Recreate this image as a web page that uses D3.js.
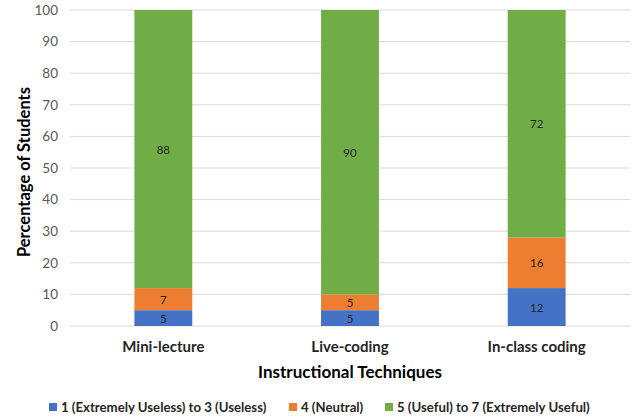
<!DOCTYPE html>
<html>
<head>
<meta charset="utf-8">
<script src="https://cdn.jsdelivr.net/npm/d3@7"></script>
<style>
  body { margin: 0; background: #fff; }
  text { font-family: Lato, "Open Sans", sans-serif; }
</style>
</head>
<body>
<svg id="chart" width="632" height="420"></svg>
<script>
// chart data
var categories = ['Mini-lecture', 'Live-coding', 'In-class coding'];
var seriesNames = ['1 (Extremely Useless) to 3 (Useless)', '4 (Neutral)', '5 (Useful) to 7 (Extremely Useful)'];
var useless = [5, 5, 12];
var neutral = [7, 5, 16];
var useful = [88, 90, 72];
var yTicks = [0, 10, 20, 30, 40, 50, 60, 70, 80, 90, 100];
var colors = ['#4472C4', '#ED7D31', '#70AD47'];

var svg = d3.select('#chart');
var margin = {left: 70, right: 2, top: 10, bottom: 94};
var width = 632 - margin.left - margin.right;
var height = 420 - margin.top - margin.bottom;

var g = svg.append('g')
  .attr('transform', 'translate(' + margin.left + ',' + margin.top + ')');

var x = d3.scaleBand()
  .domain(categories)
  .range([0, width])
  .paddingInner(0.69)
  .paddingOuter(0.345);

var y = d3.scaleLinear()
  .domain([0, 100])
  .range([height, 0]);

// gridlines
g.selectAll('.grid')
  .data(yTicks)
  .enter()
  .append('line')
  .attr('x1', 0)
  .attr('x2', width)
  .attr('y1', function (d) { return y(d); })
  .attr('y2', function (d) { return y(d); })
  .attr('stroke', '#d9d9d9')
  .attr('stroke-width', 1);

// y axis labels
var yAxis = d3.axisLeft(y).tickValues(yTicks).tickSize(0).tickPadding(12);
var yg = g.append('g').call(yAxis);
yg.select('.domain').remove();
yg.selectAll('text')
  .attr('font-size', '13.5px')
  .attr('fill', '#595959')
  .style('font-family', 'Lato, "Open Sans", sans-serif');

// stack the series
var rows = categories.map(function (c, i) {
  return {cat: c, s0: useless[i], s1: neutral[i], s2: useful[i]};
});
var stack = d3.stack().keys(['s0', 's1', 's2']);
var layers = stack(rows);

var layerG = g.selectAll('.layer')
  .data(layers)
  .enter()
  .append('g')
  .attr('fill', function (d, i) { return colors[i]; });

layerG.selectAll('rect')
  .data(function (d) { return d; })
  .enter()
  .append('rect')
  .attr('x', function (d) { return x(d.data.cat); })
  .attr('width', x.bandwidth())
  .attr('y', function (d) { return y(d[1]); })
  .attr('height', function (d) { return y(d[0]) - y(d[1]); });

// value labels
layerG.selectAll('.val')
  .data(function (d) { return d.map(function (p) { return {p: p, key: d.key}; }); })
  .enter()
  .append('text')
  .attr('x', function (d) { return x(d.p.data.cat) + x.bandwidth() / 2; })
  .attr('y', function (d) { return (y(d.p[0]) + y(d.p[1])) / 2; })
  .attr('text-anchor', 'middle')
  .attr('dominant-baseline', 'central')
  .attr('font-size', '11.5px')
  .attr('fill', '#262626')
  .text(function (d) { return d.p.data[d.key]; });

// x axis labels
g.selectAll('.cat')
  .data(categories)
  .enter()
  .append('text')
  .attr('x', function (d) { return x(d) + x.bandwidth() / 2; })
  .attr('y', height + 26)
  .attr('text-anchor', 'middle')
  .attr('font-size', '15px')
  .attr('font-weight', 'bold')
  .attr('fill', '#262626')
  .text(function (d) { return d; });

// axis titles
svg.append('text')
  .attr('x', 350)
  .attr('y', 378)
  .attr('text-anchor', 'middle')
  .attr('font-size', '17px')
  .attr('font-weight', 'bold')
  .attr('fill', '#000')
  .text('Instructional Techniques');

svg.append('text')
  .attr('transform', 'translate(30,172) rotate(-90)')
  .attr('text-anchor', 'middle')
  .attr('font-size', '16.5px')
  .attr('font-weight', 'bold')
  .attr('fill', '#000')
  .text('Percentage of Students');

// legend
var legendX = [49, 289, 385];
var lg = svg.selectAll('.leg')
  .data(seriesNames)
  .enter()
  .append('g')
  .attr('transform', function (d, i) { return 'translate(' + legendX[i] + ',402)'; });

lg.append('rect')
  .attr('width', 8)
  .attr('height', 8)
  .attr('y', 1)
  .attr('fill', function (d, i) { return colors[i]; });

lg.append('text')
  .attr('x', 12)
  .attr('y', 5)
  .attr('dominant-baseline', 'central')
  .attr('font-size', '13.2px')
  .attr('font-weight', 'bold')
  .attr('fill', '#262626')
  .text(function (d) { return d; });
</script>
</body>
</html>
